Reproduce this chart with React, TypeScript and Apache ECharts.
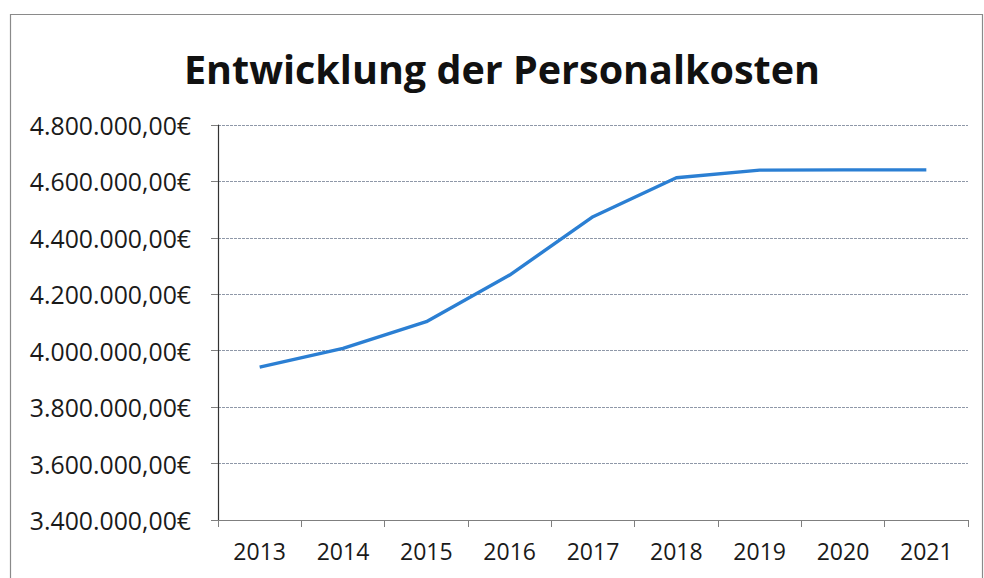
import React, { useEffect, useRef } from "react";
import * as echarts from "echarts";

const titleText = "Entwicklung der Personalkosten";
const years = ["2013", "2014", "2015", "2016", "2017", "2018", "2019", "2020", "2021"];
const personalkosten = [3942000, 4008000, 4103000, 4268000, 4475000, 4613000, 4640000, 4641000, 4641000];
const yMin = 3400000;
const yMax = 4800000;
const yStep = 200000;

const FONT = "'Open Sans', 'Noto Sans', sans-serif";

function formatEuro(v: number): string {
  const s = Math.round(v).toString().replace(/\B(?=(\d{3})+(?!\d))/g, ".");
  return s + ",00€";
}

export default function App() {
  const ref = useRef<HTMLDivElement>(null);
  useEffect(() => {
    if (!ref.current) return;
    const chart = echarts.init(ref.current, undefined, { renderer: "svg" });
    chart.setOption({
      animation: false,
      backgroundColor: "#ffffff",
      graphic: [
        {
          type: "rect",
          shape: { x: 10.5, y: 14.5, width: 972, height: 600 },
          style: { fill: "none", stroke: "#8a8a8a", lineWidth: 1.2 },
          silent: true,
        },
        {
          type: "text",
          x: 502,
          y: 69,
          style: {
            text: titleText,
            font: `bold 39.5px ${FONT}`,
            fill: "#111111",
            textAlign: "center",
            textVerticalAlign: "middle",
          },
        },
      ],
      grid: { left: 218, right: 16, top: 125, bottom: 58, containLabel: false },
      xAxis: {
        type: "category",
        data: years,
        boundaryGap: true,
        axisLine: { lineStyle: { color: "#7f7f7f", width: 1.2 } },
        axisTick: { show: true, inside: false, length: 7, alignWithLabel: false, lineStyle: { color: "#7f7f7f" } },
        axisLabel: { color: "#1a1a1a", fontFamily: FONT, fontSize: 23, margin: 19 },
        splitLine: { show: false },
      },
      yAxis: {
        type: "value",
        min: yMin,
        max: yMax,
        interval: yStep,
        axisLine: { show: true, lineStyle: { color: "#333333", width: 1.2 } },
        axisTick: { show: true, inside: false, length: 7, lineStyle: { color: "#7f7f7f" } },
        axisLabel: {
          color: "#1a1a1a",
          fontFamily: FONT,
          fontSize: 24.8,
          margin: 27,
          formatter: (v: number) => formatEuro(v),
        },
        splitLine: { show: true, lineStyle: { color: "#8f98a8", width: 1, type: [3, 1] } },
      },
      series: [
        {
          type: "line",
          name: "Personalkosten",
          data: personalkosten,
          showSymbol: false,
          symbol: "none",
          lineStyle: { color: "#2b7fd3", width: 3.4 },
          itemStyle: { color: "#2b7fd3" },
        },
      ],
    });
    return () => chart.dispose();
  }, []);
  return (
    <div
      ref={ref}
      style={{ position: "absolute", left: 0, top: 0, width: 984, height: 578 }}
    />
  );
}
